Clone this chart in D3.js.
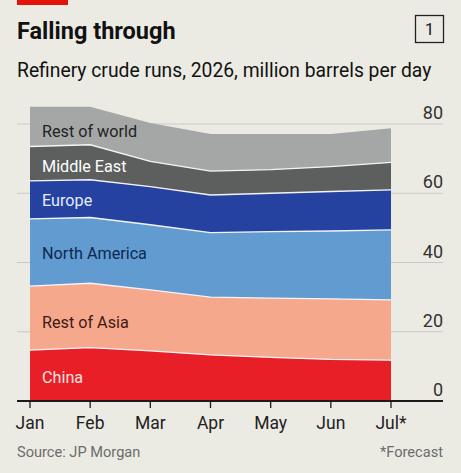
<!DOCTYPE html>
<html>
<head>
<meta charset="utf-8">
<script src="https://cdn.jsdelivr.net/npm/d3@7"></script>
<style>
  body { margin: 0; background: #ecebe3; }
  svg { display: block; font-family: Roboto, "Noto Sans", sans-serif; }
</style>
</head>
<body>
<script>
// data, million b/d
var months = ["Jan", "Feb", "Mar", "Apr", "May", "Jun", "Jul*"];
var china = [14.7, 15.4, 14.5, 13.3, 12.6, 12.0, 11.8];
var restOfAsia = [18.5, 18.6, 17.6, 16.7, 17.1, 17.5, 17.4];
var northAmerica = [19.4, 19.0, 18.8, 18.6, 19.2, 19.6, 20.2];
var europe = [11.0, 10.9, 11.0, 10.9, 11.1, 11.4, 11.6];
var middleEast = [9.9, 10.1, 7.3, 6.9, 6.8, 7.2, 7.9];
var restOfWorld = [11.5, 11.0, 11.1, 10.7, 10.3, 9.4, 9.9];
var yTicks = [0, 20, 40, 60, 80];

var series = [
  {key: "China", values: china, fill: "#e81f26", text: "#fbe3e0", ly: 383},
  {key: "Rest of Asia", values: restOfAsia, fill: "#f5a88c", text: "#3d1a12", ly: 328},
  {key: "North America", values: northAmerica, fill: "#629bd0", text: "#0d2850", ly: 259},
  {key: "Europe", values: europe, fill: "#2542a0", text: "#e4ebff", ly: 206},
  {key: "Middle East", values: middleEast, fill: "#5d5e5e", text: "#ffffff", ly: 172},
  {key: "Rest of world", values: restOfWorld, fill: "#a5a7a7", text: "#222222", ly: 137}
];

var W = 461, H = 473;
var svg = d3.select("body").append("svg")
    .attr("width", W)
    .attr("height", H);

var rows = months.map(function(m, i) {
  var r = {month: m};
  series.forEach(function(s) { r[s.key] = s.values[i]; });
  return r;
});

var x = d3.scalePoint().domain(months).range([30, 391]);
var y = d3.scaleLinear().domain([0, 80]).range([401, 124]);

// header
svg.append("rect").attr("x", 17).attr("y", 0).attr("width", 51).attr("height", 5).attr("fill", "#e3120b");
svg.append("text").attr("x", 17).attr("y", 39)
    .style("font-size", "23.5px").style("font-weight", "700").attr("fill", "#111")
    .text("Falling through");
svg.append("rect").attr("x", 415.5).attr("y", 15.5).attr("width", 28).attr("height", 27)
    .attr("fill", "none").attr("stroke", "#222").attr("stroke-width", 1.3);
svg.append("text").attr("x", 429.5).attr("y", 35).attr("text-anchor", "middle")
    .style("font-size", "17px").attr("fill", "#222").text("1");
svg.append("text").attr("x", 17).attr("y", 77)
    .style("font-size", "19.3px").attr("fill", "#111")
    .text("Refinery crude runs, 2026, million barrels per day");

// grid
var grid = svg.append("g");
grid.selectAll("line").data(yTicks.filter(function(d) { return d > 0; })).enter().append("line")
    .attr("x1", 17).attr("x2", 443)
    .attr("y1", function(d) { return y(d); }).attr("y2", function(d) { return y(d); })
    .attr("stroke", "#cbcac2").attr("stroke-width", 1);
grid.selectAll("text").data(yTicks).enter().append("text")
    .attr("x", 443).attr("y", function(d) { return y(d) - 5; })
    .attr("text-anchor", "end")
    .style("font-size", "18px").attr("fill", "#333")
    .text(function(d) { return d; });

// stacked areas
var stack = d3.stack().keys(series.map(function(s) { return s.key; }));
var layers = stack(rows);

var area = d3.area()
    .x(function(d) { return x(d.data.month); })
    .y0(function(d) { return y(d[0]); })
    .y1(function(d) { return y(d[1]); });
var topLine = d3.line()
    .x(function(d) { return x(d.data.month); })
    .y(function(d) { return y(d[1]); });

svg.append("g").selectAll("path").data(layers).enter().append("path")
    .attr("d", area)
    .attr("fill", function(d, i) { return series[i].fill; });

svg.append("g").selectAll("path").data(layers.slice(0, -1)).enter().append("path")
    .attr("d", topLine)
    .attr("fill", "none")
    .attr("stroke", "#f4f4f8")
    .attr("stroke-width", 1.3);

svg.append("g").selectAll("text").data(series).enter().append("text")
    .attr("x", 42).attr("y", function(d) { return d.ly; })
    .style("font-size", "16.2px")
    .attr("fill", function(d) { return d.text; })
    .text(function(d) { return d.key; });

// x axis
var xAxis = svg.append("g").attr("transform", "translate(0,401)");
xAxis.append("line").attr("x1", 17).attr("x2", 443).attr("stroke", "#1a1a1a").attr("stroke-width", 1.8);
xAxis.selectAll(".tk").data(months).enter().append("line")
    .attr("x1", function(d) { return x(d); }).attr("x2", function(d) { return x(d); })
    .attr("y1", 0).attr("y2", 7)
    .attr("stroke", "#1a1a1a").attr("stroke-width", 1.3);
xAxis.selectAll("text").data(months).enter().append("text")
    .attr("x", function(d) { return x(d); }).attr("y", 28)
    .attr("text-anchor", "middle")
    .style("font-size", "17.5px").attr("fill", "#222")
    .text(function(d) { return d; });

// footer
svg.append("text").attr("x", 17).attr("y", 457)
    .style("font-size", "14.6px").attr("fill", "#6b6b6b")
    .text("Source: JP Morgan");
svg.append("text").attr("x", 443).attr("y", 457).attr("text-anchor", "end")
    .style("font-size", "14.6px").attr("fill", "#6b6b6b")
    .text("*Forecast");
</script>
</body>
</html>
